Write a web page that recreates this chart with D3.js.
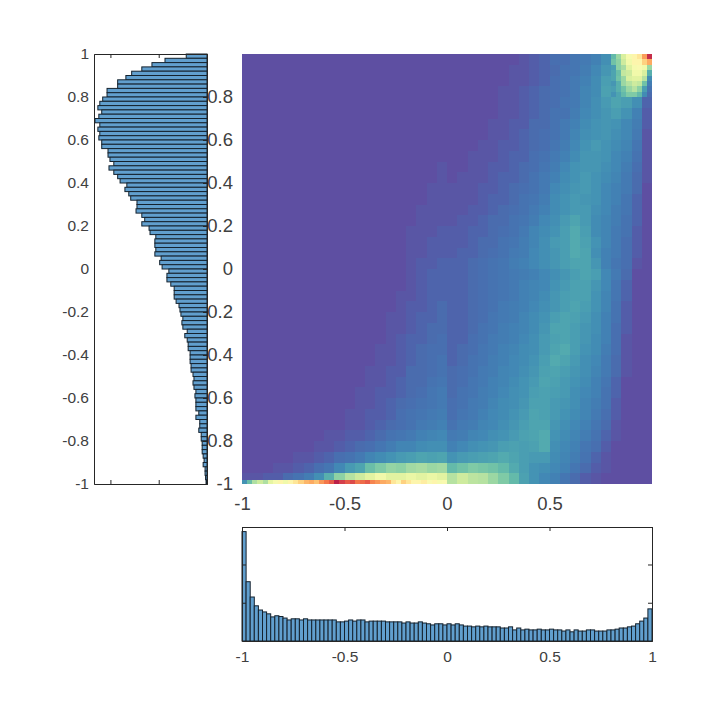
<!DOCTYPE html>
<html>
<head>
<meta charset="utf-8">
<script src="https://d3js.org/d3.v7.min.js"></script>
<style>
  html, body { margin: 0; background: #fff; }
  svg { display: block; }
  text { font-family: "Liberation Sans", Arial, sans-serif; fill: #404040; }
</style>
</head>
<body>
<div id="chart"></div>
<script>
// left histogram, top bin (y = 1) down to bottom bin (y = -1)
const leftCounts = [
  .43, .87, 1.14, 1.35, 1.56, 1.68, 1.85, 1.85, 2.07, 2.07,
  2.16, 2.22, 2.26, 2.18, 2.24, 2.32, 2.22, 2.26, 2.22, 2.24,
  2.18, 2.18, 2.05, 2.05, 2.01, 1.93, 2.03, 1.93, 1.85, 1.80,
  1.66, 1.70, 1.62, 1.58, 1.45, 1.45, 1.47, 1.35, 1.29, 1.35,
  1.20, 1.18, 1.06, 1.08, 1.08, 1.06, 1.08, .95, .98, .93,
  .79, .83, .83, .75, .68, .68, .68, .64, .58, .56,
  .54, .50, .52, .50, .41, .46, .41, .39, .39, .35,
  .35, .35, .33, .33, .29, .27, .29, .27, .23, .25,
  .23, .23, .23, .17, .23, .15, .15, .17, .12, .12,
  .10, .10, .10, .08, .06, .08, .04, .04, .03, .02
];

// bottom histogram, x = -1 to x = 1
const bottomCounts = [
  2.86, 1.55, 1.15, .92, .81, .76, .71, .63, .66, .64,
  .60, .55, .58, .58, .55, .58, .55, .55, .55, .55,
  .55, .55, .55, .50, .50, .52, .55, .52, .55, .55,
  .50, .52, .52, .52, .52, .50, .50, .50, .50, .47,
  .50, .47, .47, .50, .47, .45, .42, .45, .45, .42,
  .45, .42, .45, .42, .39, .39, .37, .39, .37, .39,
  .37, .37, .37, .34, .34, .37, .29, .34, .29, .31,
  .29, .29, .31, .29, .29, .31, .29, .29, .26, .29,
  .24, .29, .26, .26, .29, .29, .26, .26, .26, .29,
  .29, .31, .34, .34, .37, .39, .45, .52, .60, .84
];

// density in 0.05 x 0.05 cells, top row first, 0-100
const heatRows = [
  [0,0,0,0,0,0,0,0,0,0,0,0,0,0,0,0,0,0,0,0, 0,0,0,0,0,0,0,1,2,3,5,5,7,8,10,14,24,38,46,60],
  [0,0,0,0,0,0,0,0,0,0,0,0,0,0,0,0,0,0,0,0, 0,0,0,0,0,0,1,1,2,3,4,6,7,9,12,16,24,32,36,22],
  [0,0,0,0,0,0,0,0,0,0,0,0,0,0,0,0,0,0,0,0, 0,0,0,0,0,0,1,1,2,3,5,6,8,10,13,18,22,30,28,12],
  [0,0,0,0,0,0,0,0,0,0,0,0,0,0,0,0,0,0,0,0, 0,0,0,0,0,1,1,2,3,4,5,6,8,11,13,19,22,24,20,6],
  [0,0,0,0,0,0,0,0,0,0,0,0,0,0,0,0,0,0,0,0, 0,0,0,0,0,1,1,2,3,4,5,7,8,11,14,17,20,18,14,3],
  [0,0,0,0,0,0,0,0,0,0,0,0,0,0,0,0,0,0,0,0, 0,0,0,0,0,1,1,2,3,4,6,6,9,12,14,16,18,15,10,2],
  [0,0,0,0,0,0,0,0,0,0,0,0,0,0,0,0,0,0,0,0, 0,0,0,0,1,1,2,2,4,4,6,8,10,13,15,16,15,12,9,2],
  [0,0,0,0,0,0,0,0,0,0,0,0,0,0,0,0,0,0,0,0, 0,0,0,0,1,1,2,3,4,5,6,8,11,14,15,16,14,12,8,1],
  [0,0,0,0,0,0,0,0,0,0,0,0,0,0,0,0,0,0,0,0, 0,0,0,1,1,2,2,3,4,5,7,9,12,15,17,15,13,11,7,1],
  [0,0,0,0,0,0,0,0,0,0,0,0,0,0,0,0,0,0,0,0, 0,0,1,1,1,2,3,3,5,6,8,10,13,16,16,15,12,10,6,1],
  [0,0,0,0,0,0,0,0,0,0,0,0,0,0,0,0,0,0,0,1, 0,0,1,1,2,2,3,4,5,7,9,12,15,16,16,14,12,9,5,1],
  [0,0,0,0,0,0,0,0,0,0,0,0,0,0,0,0,0,0,0,1, 0,1,1,1,2,3,3,4,6,8,10,13,15,17,15,13,11,8,4,1],
  [0,0,0,0,0,0,0,0,0,0,0,0,0,0,0,0,0,0,1,1, 1,1,1,2,2,3,4,5,6,8,12,14,16,17,15,12,10,8,4,0],
  [0,0,0,0,0,0,0,0,0,0,0,0,0,0,0,0,0,0,1,1, 1,1,1,2,3,3,4,6,7,9,13,15,17,16,15,12,10,7,3,0],
  [0,0,0,0,0,0,0,0,0,0,0,0,0,0,0,0,0,1,1,1, 1,1,2,2,3,4,5,6,8,10,13,15,17,17,14,12,9,7,3,0],
  [0,0,0,0,0,0,0,0,0,0,0,0,0,0,0,0,0,1,1,1, 1,2,2,3,4,4,6,7,9,12,14,17,20,17,13,11,9,6,3,0],
  [0,0,0,0,0,0,0,0,0,0,0,0,0,0,0,0,1,1,1,2, 2,2,3,3,4,5,6,8,11,13,15,18,21,18,13,11,8,6,2,0],
  [0,0,0,0,0,0,0,0,0,0,0,0,0,0,0,0,1,1,2,2, 2,2,3,4,4,6,7,9,11,14,17,18,21,19,15,11,8,5,2,0],
  [0,0,0,0,0,0,0,0,0,0,0,0,0,0,0,0,1,1,2,2, 2,3,3,4,5,6,8,9,12,14,16,18,21,20,14,10,8,5,2,0],
  [0,0,0,0,0,0,0,0,0,0,0,0,0,0,0,0,1,2,2,3, 3,3,4,5,6,7,9,10,12,14,16,18,20,20,16,10,7,5,1,0],
  [0,0,0,0,0,0,0,0,0,0,0,0,0,0,0,0,1,2,3,3, 3,3,4,5,6,7,8,9,10,12,14,16,18,20,18,12,8,4,0,0],
  [0,0,0,0,0,0,0,0,0,0,0,0,0,0,0,0,1,2,3,3, 3,3,4,5,6,7,8,10,11,12,15,17,19,19,16,12,7,3,0,0],
  [0,0,0,0,0,0,0,0,0,0,0,0,0,0,0,1,1,2,3,3, 3,3,4,5,6,7,8,10,11,13,16,18,19,19,15,11,7,3,0,0],
  [0,0,0,0,0,0,0,0,0,0,0,0,0,0,0,1,2,2,3,4, 3,3,4,5,6,8,9,10,12,14,16,18,20,18,15,11,6,2,0,0],
  [0,0,0,0,0,0,0,0,0,0,0,0,0,0,1,1,2,3,3,4, 3,3,4,5,7,8,9,11,13,15,18,20,19,17,14,10,6,2,0,0],
  [0,0,0,0,0,0,0,0,0,0,0,0,0,0,1,1,2,3,4,4, 3,3,4,6,7,9,10,11,13,16,20,20,18,16,14,10,5,2,0,0],
  [0,0,0,0,0,0,0,0,0,0,0,0,0,0,1,2,3,3,4,5, 3,3,5,6,8,9,10,12,14,17,19,20,18,16,13,10,5,1,0,0],
  [0,0,0,0,0,0,0,0,0,0,0,0,0,1,1,2,3,4,5,5, 3,4,5,7,8,10,11,13,14,17,20,21,18,15,13,9,5,1,0,0],
  [0,0,0,0,0,0,0,0,0,0,0,0,0,1,1,2,3,4,5,6, 3,4,6,7,9,10,12,13,15,18,21,20,17,14,12,8,4,1,0,0],
  [0,0,0,0,0,0,0,0,0,0,0,0,1,1,2,2,4,4,5,6, 4,5,6,8,9,11,12,14,16,19,20,18,16,14,11,8,4,1,0,0],
  [0,0,0,0,0,0,0,0,0,0,0,0,1,1,2,3,4,4,6,7, 4,5,7,8,10,11,13,15,17,20,19,17,15,13,10,7,3,0,0,0],
  [0,0,0,0,0,0,0,0,0,0,0,1,1,2,2,3,4,5,7,8, 4,6,7,9,10,12,14,15,18,19,18,17,14,12,10,6,3,0,0,0],
  [0,0,0,0,0,0,0,0,0,0,0,1,1,2,3,4,5,6,7,8, 5,6,8,9,11,13,14,16,19,19,17,16,14,11,9,6,2,0,0,0],
  [0,0,0,0,0,0,0,0,0,0,1,1,2,2,3,5,6,7,8,9, 5,7,8,10,12,13,15,17,20,19,17,15,13,11,8,5,2,0,0,0],
  [0,0,0,0,0,0,0,0,0,0,1,1,2,3,4,5,6,8,9,10, 6,8,9,11,12,14,16,18,20,20,16,14,12,10,7,4,1,0,0,0],
  [0,0,0,0,0,0,0,0,1,1,2,2,3,4,6,7,8,10,11,12, 8,9,11,12,14,15,17,19,20,21,15,13,11,9,6,3,1,0,0,0],
  [0,0,0,0,0,0,0,1,1,2,3,4,5,7,9,11,11,13,14,14, 10,12,14,15,16,18,19,18,19,21,14,12,10,7,5,2,0,0,0,0],
  [0,0,0,0,0,1,1,2,3,5,6,8,11,13,15,17,18,20,19,20, 15,17,18,19,20,21,20,18,17,17,13,11,9,6,3,1,0,0,0,0],
  [0,0,0,1,1,2,3,5,7,12,17,20,25,28,31,30,33,34,32,33, 24,26,28,27,26,24,21,18,15,14,12,10,7,4,2,1,0,0,0,0],
  [1,1,2,2,4,6,9,14,22,30,36,40,44,48,44,44,46,44,46,44, 36,40,37,36,32,28,24,19,15,12,10,7,4,2,1,0,0,0,0,0]
];

// thin strip along y = -1, x = -1 to 0 in 0.025 steps
const bottomStrip = [
  15, 25, 35, 40, 35, 45, 50, 55, 48, 55,
  60, 65, 70, 72, 68, 75, 80, 85, 95, 90,
  85, 88, 80, 82, 85, 78, 75, 72, 70, 60,
  55, 65, 60, 55, 55, 58, 52, 55, 50, 52
];

// top right corner, x and y 0.8 to 1 in 0.025 steps, top row first
const cornerRows = [
  [24, 32, 42, 50, 55, 60, 74, 93],
  [26, 30, 40, 48, 55, 55, 65, 72],
  [18, 30, 34, 44, 50, 52, 48, 32],
  [20, 25, 38, 40, 48, 48, 42, 22],
  [20, 26, 32, 42, 44, 44, 36, 13],
  [16, 22, 32, 36, 40, 38, 26, 9],
  [18, 22, 26, 32, 36, 30, 18, 6],
  [15, 20, 24, 28, 28, 24, 13, 4]
];

const xTicks = [-1, -0.5, 0, 0.5];
const yTicks = [-1, -0.8, -0.6, -0.4, -0.2, 0, 0.2, 0.4, 0.6, 0.8];
const leftYTicks = [-1, -0.8, -0.6, -0.4, -0.2, 0, 0.2, 0.4, 0.6, 0.8, 1];
const bottomXTicks = [-1, -0.5, 0, 0.5, 1];
const countTicks = [1, 2];

const width = 721, height = 721;
const heat = {left: 242, right: 652, top: 54, bottom: 484};
const hl = {left: 94, right: 207, top: 54, bottom: 484};
const hb = {left: 242, right: 652, top: 527, bottom: 641};
const barFill = '#619fce', barStroke = '#14222e', axisColor = '#262626';

const svg = d3.select('#chart').append('svg')
  .attr('width', width)
  .attr('height', height);

const tickLabel = d => String(d);
// most cells average to blue or teal in the picture, so that part of the ramp gets stretched
const density = d3.scaleLinear().domain([0, 4, 20, 100]).range([0, 0.05, 0.15, 1]);
const color = v => d3.interpolateSpectral(1 - density(v));

// --- heat map
const x = d3.scaleLinear().domain([-1, 1]).range([heat.left, heat.right]);
const y = d3.scaleLinear().domain([-1, 1]).range([heat.bottom, heat.top]);

const cells = [];
const addCells = (rows, x0, yTop, size) => rows.forEach((row, j) => row.forEach((v, i) => {
  cells.push({x0: x0 + i * size, x1: x0 + (i + 1) * size, y0: yTop - (j + 1) * size, y1: yTop - j * size, v});
}));
addCells(heatRows, -1, 1, 0.05);
addCells(cornerRows, 0.8, 1, 0.025);
bottomStrip.forEach((v, i) => cells.push({x0: -1 + i * 0.025, x1: -1 + (i + 1) * 0.025, y0: -1, y1: -0.98, v}));

svg.append('g').attr('shape-rendering', 'crispEdges')
  .selectAll('rect').data(cells).join('rect')
  .attr('x', d => x(d.x0))
  .attr('y', d => y(d.y1))
  .attr('width', d => x(d.x1) - x(d.x0))
  .attr('height', d => y(d.y0) - y(d.y1))
  .attr('fill', d => color(d.v));

// tick labels only, the map has no visible axis lines
const heatX = svg.append('g')
  .attr('transform', `translate(0, ${heat.bottom})`)
  .call(d3.axisBottom(x).tickValues(xTicks).tickFormat(tickLabel).tickSize(0).tickPadding(13));
const heatY = svg.append('g')
  .attr('transform', `translate(${heat.left}, 0)`)
  .call(d3.axisLeft(y).tickValues(yTicks).tickFormat(tickLabel).tickSize(0).tickPadding(9));
[heatX, heatY].forEach(g => {
  g.select('.domain').remove();
  g.selectAll('text').attr('font-size', 18.5);
});

// --- left histogram, counts grow to the left
const lx = d3.scaleLinear().domain([0, 2.34]).range([hl.right, hl.left]);
const ly = d3.scaleLinear().domain([-1, 1]).range([hl.bottom, hl.top]);

svg.append('g').selectAll('rect').data(leftCounts).join('rect')
  .attr('x', d => lx(d))
  .attr('y', (_, i) => ly(1 - i * 0.02))
  .attr('width', d => lx(0) - lx(d))
  .attr('height', ly(0) - ly(0.02))
  .attr('fill', barFill)
  .attr('stroke', barStroke)
  .attr('stroke-width', 1);

const axisLeftHist = svg.append('g');
axisLeftHist.append('g')
  .attr('transform', `translate(${hl.left}, 0)`)
  .call(d3.axisLeft(ly).tickValues(leftYTicks).tickFormat(tickLabel).tickSize(0).tickPadding(5));
axisLeftHist.append('g')
  .attr('transform', `translate(${hl.right}, 0)`)
  .call(d3.axisLeft(ly).tickValues(leftYTicks).tickFormat('').tickSize(4));
axisLeftHist.append('g')
  .attr('transform', `translate(0, ${hl.top})`)
  .call(d3.axisTop(lx).tickValues(countTicks).tickFormat('').tickSize(-4));
axisLeftHist.append('g')
  .attr('transform', `translate(0, ${hl.bottom})`)
  .call(d3.axisBottom(lx).tickValues(countTicks).tickFormat('').tickSize(-4));

// --- bottom histogram
const bx = d3.scaleLinear().domain([-1, 1]).range([hb.left, hb.right]);
const by = d3.scaleLinear().domain([0, 2.98]).range([hb.bottom, hb.top]);

svg.append('g').selectAll('rect').data(bottomCounts).join('rect')
  .attr('x', (_, i) => bx(-1 + i * 0.02))
  .attr('y', d => by(d))
  .attr('width', bx(0.02) - bx(0))
  .attr('height', d => by(0) - by(d))
  .attr('fill', barFill)
  .attr('stroke', barStroke)
  .attr('stroke-width', 1);

const axisBottomHist = svg.append('g');
axisBottomHist.append('g')
  .attr('transform', `translate(0, ${hb.bottom})`)
  .call(d3.axisBottom(bx).tickValues(bottomXTicks).tickFormat(tickLabel).tickSize(0).tickPadding(10));
axisBottomHist.append('g')
  .attr('transform', `translate(0, ${hb.top})`)
  .call(d3.axisTop(bx).tickValues(bottomXTicks).tickFormat('').tickSize(-4));
axisBottomHist.append('g')
  .attr('transform', `translate(${hb.left}, 0)`)
  .call(d3.axisLeft(by).tickValues(countTicks).tickFormat('').tickSize(-4));
axisBottomHist.append('g')
  .attr('transform', `translate(${hb.right}, 0)`)
  .call(d3.axisRight(by).tickValues(countTicks).tickFormat('').tickSize(-4));

[axisLeftHist, axisBottomHist].forEach(g => {
  g.selectAll('.domain').attr('stroke', axisColor);
  g.selectAll('.tick line').attr('stroke', axisColor);
  g.selectAll('text').attr('font-size', 15.5);
});
</script>
</body>
</html>
